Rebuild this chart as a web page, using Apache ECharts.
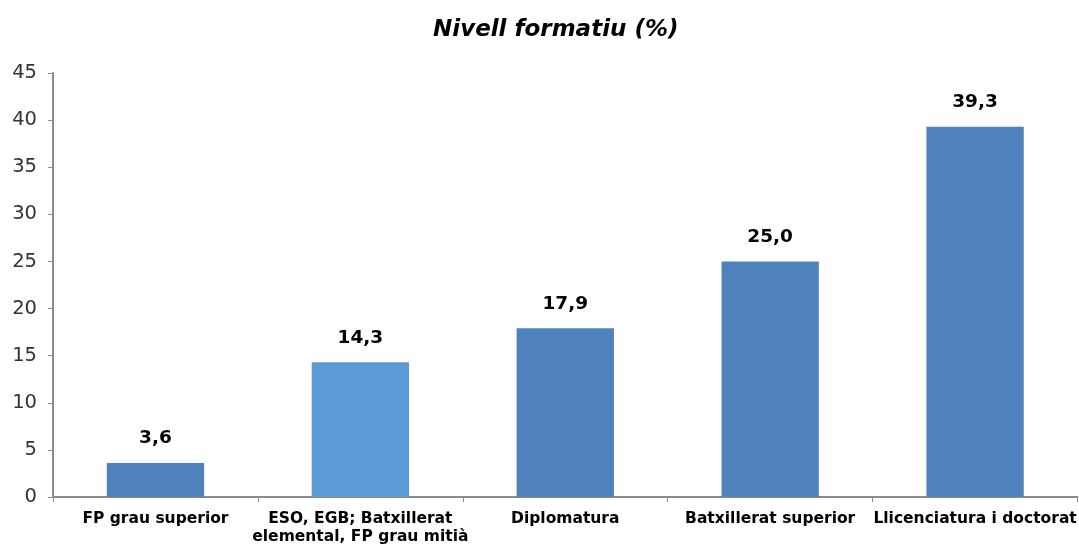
<!DOCTYPE html>
<html>
<head>
<meta charset="utf-8">
<script src="https://cdn.jsdelivr.net/npm/echarts@6/dist/echarts.min.js"></script>
<style>
  html, body { margin: 0; padding: 0; background: #fff; }
  #chart { width: 1079px; height: 546px; }
</style>
</head>
<body>
<div id="chart"></div>
<script>
const categories = ['FP grau superior', 'ESO, EGB; Batxillerat\nelemental, FP grau mitià', 'Diplomatura', 'Batxillerat superior', 'Llicenciatura i doctorat'];
const values = [3.6, 14.3, 17.9, 25.0, 39.3];
const barColors = ['#4f81bd', '#5b9bd5', '#4f81bd', '#4f81bd', '#4f81bd'];

const chart = echarts.init(document.getElementById('chart'));
chart.setOption({
  animation: false,
  title: {
    text: 'Nivell formatiu (%)',
    left: 428,
    top: 14,
    textStyle: { fontFamily: 'DejaVu Sans', fontSize: 23, fontStyle: 'italic', fontWeight: 'bold', color: '#000' }
  },
  grid: { left: 53, right: -6, top: 73, bottom: 48 },
  xAxis: {
    type: 'category',
    data: categories,
    axisLine: { lineStyle: { color: '#8c8c8c', width: 2 } },
    axisTick: { show: true, alignWithLabel: false, length: 5, lineStyle: { color: '#8c8c8c' } },
    axisLabel: {
      interval: 0,
      margin: 13,
      color: '#000',
      fontFamily: 'DejaVu Sans',
      fontWeight: 'bold',
      fontSize: 15.5,
      lineHeight: 18
    }
  },
  yAxis: {
    type: 'value',
    min: 0,
    max: 45,
    interval: 5,
    splitLine: { show: false },
    axisLine: { show: true, lineStyle: { color: '#8c8c8c', width: 2 } },
    axisTick: { show: true, length: 5, lineStyle: { color: '#8c8c8c' } },
    axisLabel: { color: '#333', fontFamily: 'DejaVu Sans', fontSize: 19.5, margin: 16 }
  },
  series: [{
    type: 'bar',
    barWidth: '47.5%',
    data: values.map((v, i) => ({ value: v, itemStyle: { color: barColors[i] } })),
    label: {
      show: true,
      position: 'top',
      distance: 15,
      color: '#000',
      fontFamily: 'DejaVu Sans',
      fontWeight: 'bold',
      fontSize: 18.5,
      formatter: p => p.value.toFixed(1).replace('.', ',')
    }
  }]
});
</script>
</body>
</html>
